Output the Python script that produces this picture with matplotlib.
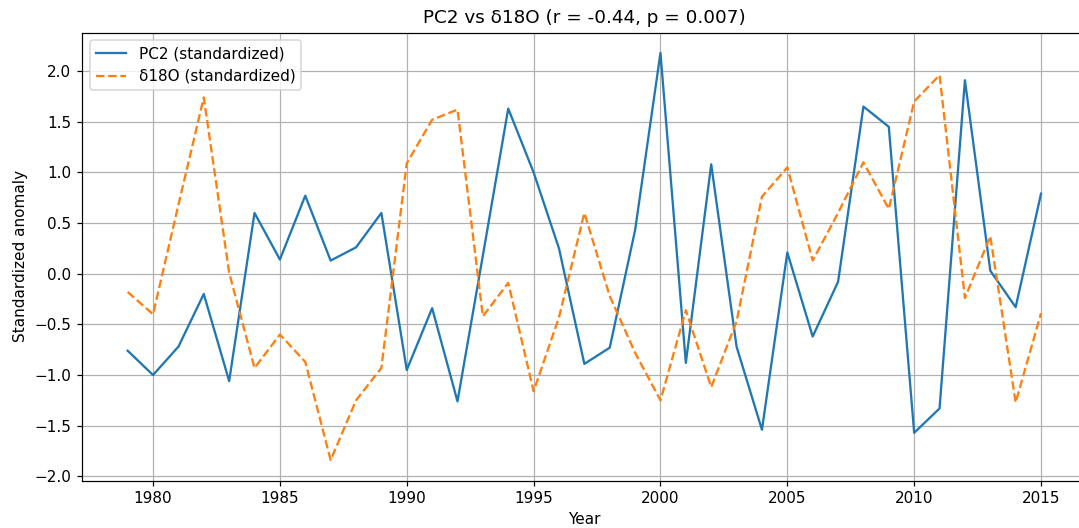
import numpy as np
import matplotlib
matplotlib.use("Agg")
import matplotlib.pyplot as plt

years = np.arange(1979, 2016)

pc2 = [-0.76, -1.00, -0.72, -0.20, -1.06, 0.60, 0.14, 0.77, 0.13, 0.26,
       0.60, -0.95, -0.34, -1.26, 0.18, 1.63, 1.00, 0.25, -0.89, -0.73,
       0.43, 2.18, -0.88, 1.08, -0.72, -1.54, 0.21, -0.62, -0.08, 1.65,
       1.45, -1.57, -1.33, 1.91, 0.03, -0.33, 0.79]

d18o = [-0.18, -0.40, 0.68, 1.74, 0.01, -0.93, -0.60, -0.87, -1.84, -1.25,
        -0.93, 1.09, 1.52, 1.62, -0.42, -0.09, -1.16, -0.43, 0.60, -0.22,
        -0.78, -1.25, -0.36, -1.12, -0.47, 0.76, 1.05, 0.13, 0.60, 1.10,
        0.64, 1.70, 1.96, -0.24, 0.37, -1.27, -0.39]

W, H, DPI = 1079, 528, 110
fig = plt.figure(figsize=(W / DPI, H / DPI), dpi=DPI)
# axes run slightly past the right edge of the canvas
ax = fig.add_axes([82 / W, 47.5 / H, 1004.7 / W, 448 / H])

ax.plot(years, pc2, label="PC2 (standardized)")
ax.plot(years, d18o, linestyle="--", label="δ18O (standardized)")

ax.set_title("PC2 vs δ18O (r = -0.44, p = 0.007)", fontsize=12)
ax.set_xlabel("Year")
ax.set_ylabel("Standardized anomaly")
ax.legend(loc="upper left")
ax.grid(True)
ax.spines["right"].set_visible(False)

fig.savefig("out.png", dpi=DPI)
